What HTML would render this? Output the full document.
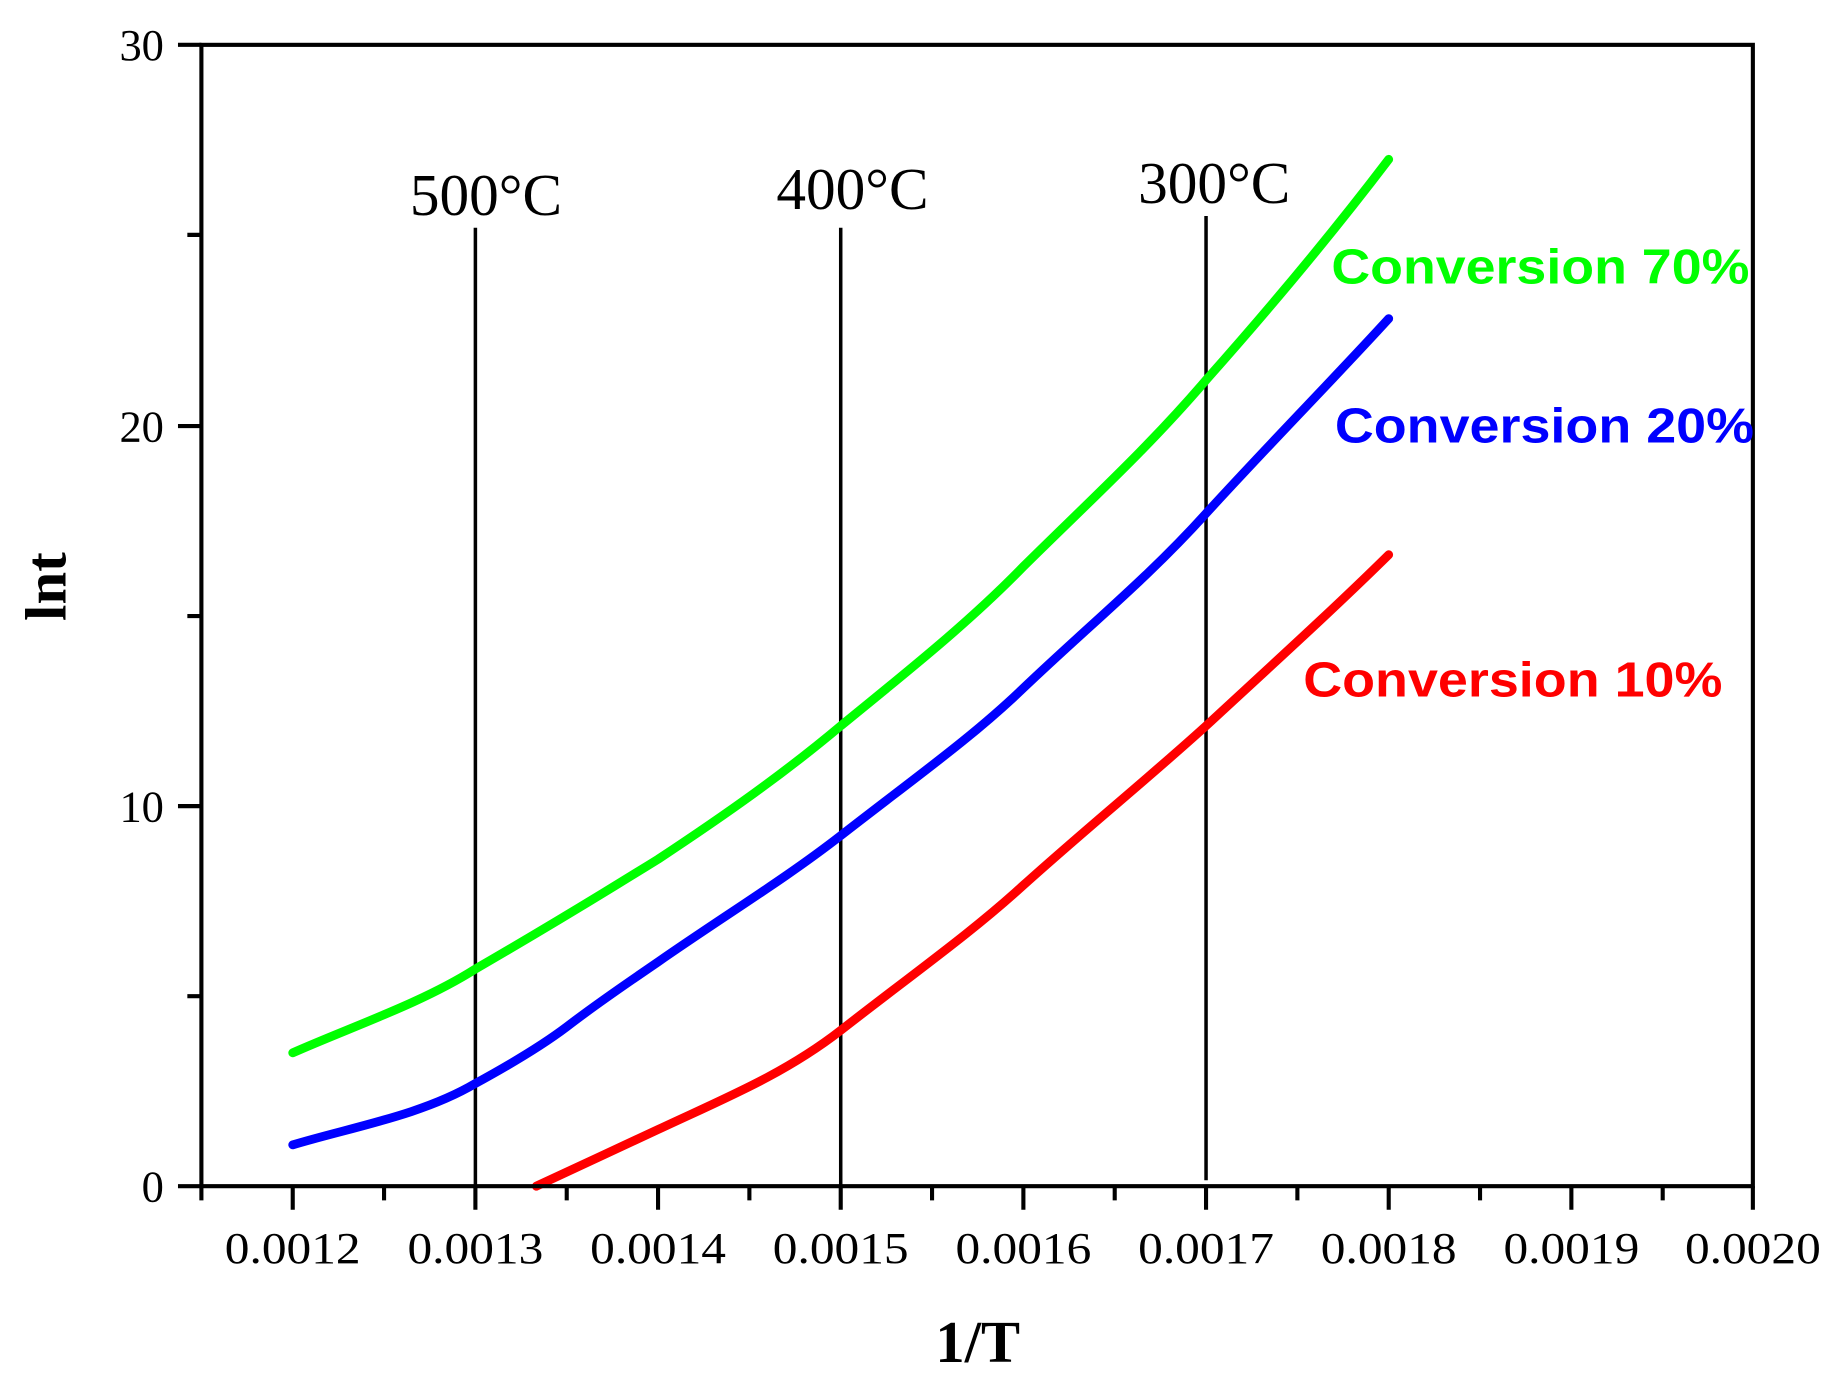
<!DOCTYPE html>
<html><head><style>html,body{margin:0;padding:0;background:#fff;}svg{display:block;}</style></head>
<body>
<svg width="1836" height="1388" viewBox="0 0 1568 1176" preserveAspectRatio="none" xmlns="http://www.w3.org/2000/svg">
<rect width="1568" height="1176" fill="#fff"/>
<g stroke="#000" stroke-width="3">
<line x1="406" y1="193" x2="406" y2="1005"/>
<line x1="718" y1="193" x2="718" y2="1005"/>
<line x1="1030" y1="183" x2="1030" y2="1000"/>
</g>
<g fill="none" stroke-width="7.5" stroke-linecap="round" stroke-linejoin="round">
<path stroke="#00ff00" d="M250,892 C300,870 360,850 406,821 C460,790 510,760 562,728 C620,690 670,655 718,615 C780,565 830,525 874,480 C930,425 980,380 1030,322 C1090,255 1140,195 1186,135"/>
<path stroke="#0000ff" d="M250,970 C300,955 360,945 406,918 C430,905 460,888 484,870 C510,850 540,830 562,815 C620,775 670,745 718,708 C780,660 830,625 874,583 C930,530 980,490 1030,435 C1090,370 1140,320 1186,270"/>
<path stroke="#ff0000" d="M458,1005 C490,990 530,972 562,957 C620,930 670,910 718,873 C780,825 830,790 874,750 C930,700 980,660 1030,615 C1090,560 1140,515 1186,470"/>
</g>
<g stroke="#000" stroke-width="3.5" fill="none">
<rect x="172" y="38" width="1325" height="967"/>
<path d="M250,1005v20 M406,1005v20 M562,1005v20 M718,1005v20 M874,1005v20 M1030,1005v20 M1186,1005v20 M1342,1005v20 M1497,1005v20
M172,1005v12 M328,1005v12 M484,1005v12 M640,1005v12 M796,1005v12 M952,1005v12 M1108,1005v12 M1264,1005v12 M1420,1005v12
M152,1005h20 M152,683h20 M152,361h20 M152,38h20 M160,844h12 M160,522h12 M160,199h12"/>
</g>
<g font-family="Liberation Serif, serif" font-size="38" fill="#000">
<g text-anchor="middle">
<text x="250" y="1070" textLength="116" lengthAdjust="spacingAndGlyphs">0.0012</text><text x="406" y="1070" textLength="116" lengthAdjust="spacingAndGlyphs">0.0013</text><text x="562" y="1070" textLength="116" lengthAdjust="spacingAndGlyphs">0.0014</text>
<text x="718" y="1070" textLength="116" lengthAdjust="spacingAndGlyphs">0.0015</text><text x="874" y="1070" textLength="116" lengthAdjust="spacingAndGlyphs">0.0016</text><text x="1030" y="1070" textLength="116" lengthAdjust="spacingAndGlyphs">0.0017</text>
<text x="1186" y="1070" textLength="116" lengthAdjust="spacingAndGlyphs">0.0018</text><text x="1342" y="1070" textLength="116" lengthAdjust="spacingAndGlyphs">0.0019</text><text x="1497" y="1070" textLength="116" lengthAdjust="spacingAndGlyphs">0.0020</text>
</g>
<g text-anchor="end">
<text x="140" y="1018">0</text><text x="140" y="696">10</text><text x="140" y="374">20</text><text x="140" y="51">30</text>
</g>
<g font-size="50" text-anchor="middle">
<text x="415" y="182" textLength="130" lengthAdjust="spacingAndGlyphs">500°C</text><text x="728" y="177" textLength="130" lengthAdjust="spacingAndGlyphs">400°C</text><text x="1037" y="172" textLength="130" lengthAdjust="spacingAndGlyphs">300°C</text>
</g>
<text x="835" y="1154" font-size="50" font-weight="bold" text-anchor="middle">1/T</text>
<text transform="translate(56,497) rotate(-90)" font-size="50" font-weight="bold" text-anchor="middle">lnt</text>
</g>
<g font-family="Liberation Sans, sans-serif" font-size="42" font-weight="bold">
<text x="1137" y="240" fill="#00ff00" textLength="357" lengthAdjust="spacingAndGlyphs">Conversion 70%</text>
<text x="1140" y="375" fill="#0000ff" textLength="358" lengthAdjust="spacingAndGlyphs">Conversion 20%</text>
<text x="1113" y="590" fill="#ff0000" textLength="358" lengthAdjust="spacingAndGlyphs">Conversion 10%</text>
</g>
</svg>
</body></html>
